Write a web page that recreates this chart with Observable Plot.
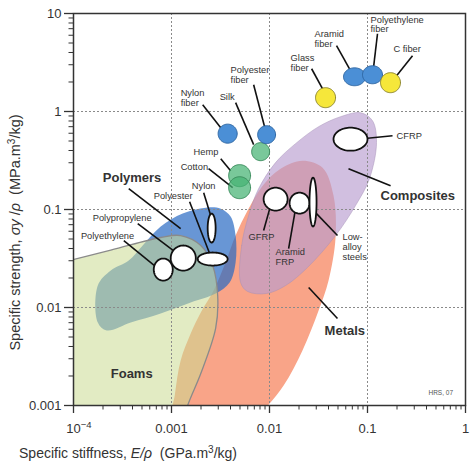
<!DOCTYPE html>
<html><head><meta charset="utf-8">
<script src="https://cdn.jsdelivr.net/npm/d3@7"></script>
<script src="https://cdn.jsdelivr.net/npm/@observablehq/plot@0.6"></script>
<style>body{margin:0;background:#fff;} svg{display:block;}</style>
</head><body><div id="chart"></div>
<script>
// ---- axis ticks ----
const xTicks = [1e-4, 1e-3, 1e-2, 1e-1, 1];
const xTickLabels = ["10⁻⁴", "0.001", "0.01", "0.1", "1"];
const yTicks = [1e-3, 1e-2, 1e-1, 1, 10];
const yTickLabels = ["0.001", "0.01", "0.1", "1", "10"];
const xGrid = [1e-3, 1e-2, 1e-1];
const yGrid = [1e-2, 1e-1, 1];

// ---- material-class envelopes: [E/rho (GPa.m3/kg), sigma_y/rho (MPa.m3/kg)] ----
const foams = [
  [2.90e-5, 5.57e-4], [2.90e-5, 0.02275], [5.87e-5, 0.0271], [2.40e-4, 0.0385],
  [7.76e-4, 0.0518], [1.24e-3, 0.0542], [1.99e-3, 0.0429], [2.63e-3, 0.0268],
  [2.96e-3, 0.01324], [2.82e-3, 0.00611], [1.99e-3, 0.00212], [1.46e-3, 0.0010],
  [1.24e-3, 5.57e-4]
];
const metals = [
  [9.82e-4, 5.57e-4], [1.08e-3, 1.27e-3], [1.24e-3, 2.88e-3], [1.57e-3, 5.43e-3],
  [1.99e-3, 8.89e-3], [2.69e-3, 0.0149], [3.56e-3, 0.0288], [4.51e-3, 0.0542],
  [5.98e-3, 0.0975], [8.51e-3, 0.175], [0.01297, 0.261], [0.0217, 0.315],
  [0.0348, 0.267], [0.0450, 0.1387], [0.0472, 0.0518], [0.0400, 0.0188],
  [0.0317, 0.00931], [0.0217, 0.00365], [0.01393, 0.00160], [8.71e-3, 8.91e-4],
  [5.70e-3, 5.57e-4]
];
const polymers = [
  [1.77e-4, 0.01675], [2.40e-4, 0.0238], [3.66e-4, 0.0301], [5.08e-4, 0.0429],
  [7.76e-4, 0.0670], [1.30e-3, 0.0908], [2.24e-3, 0.1045], [3.18e-3, 0.102],
  [4.01e-3, 0.0847], [4.51e-3, 0.0542], [4.51e-3, 0.0288], [3.92e-3, 0.0180],
  [2.82e-3, 0.0139], [1.57e-3, 0.01125], [7.76e-4, 8.69e-3], [3.84e-4, 7.03e-3],
  [2.18e-4, 5.83e-3], [1.77e-4, 7.03e-3]
];
const composites = [
  [5.07e-3, 0.0180], [5.20e-3, 0.0429], [6.12e-3, 0.0867], [7.74e-3, 0.163],
  [0.01153, 0.301], [0.01845, 0.470], [0.0317, 0.700], [0.0531, 0.885],
  [0.0849, 0.972], [0.1125, 0.805], [0.1236, 0.481], [0.1047, 0.2065],
  [0.0755, 0.1096], [0.0472, 0.0542], [0.0244, 0.0256], [0.01459, 0.01675],
  [9.33e-3, 0.0139], [5.98e-3, 0.01456]
];

// ---- individual materials: [name, kind, Emin, Emax, smin, smax] ----
const materials = [
  ["Polyethylene", "bulk", 6.59e-4, 1.03e-3, 0.0188, 0.0316],
  ["Polypropylene", "bulk", 9.82e-4, 1.77e-3, 0.0238, 0.0429],
  ["Polyester", "bulk", 1.85e-3, 3.74e-3, 0.0268, 0.0364],
  ["Nylon", "bulk", 2.34e-3, 2.82e-3, 0.0460, 0.0908],
  ["Silk", "natural fibre", 6.58e-3, 0.01002, 0.315, 0.481],
  ["Nylon fiber", "polymer fibre", 2.99e-3, 4.68e-3, 0.475, 0.743],
  ["Polyester fiber", "polymer fibre", 7.57e-3, 0.01153, 0.470, 0.716],
  ["Hemp", "natural fibre", 3.83e-3, 6.41e-3, 0.171, 0.287],
  ["Cotton", "natural fibre", 3.83e-3, 6.41e-3, 0.129, 0.216],
  ["Glass fiber", "inorganic fibre", 0.0295, 0.0472, 1.094, 1.750],
  ["Aramid fiber", "polymer fibre", 0.0569, 0.0955, 1.832, 2.79],
  ["Polyethylene fiber", "polymer fibre", 0.0889, 0.1422, 1.919, 2.93],
  ["C fiber", "inorganic fibre", 0.1358, 0.217, 1.556, 2.49],
  ["CFRP", "bulk", 0.0450, 0.100, 0.398, 0.684],
  ["GFRP", "bulk", 8.71e-3, 0.01531, 0.0975, 0.167],
  ["Aramid FRP", "bulk", 0.01603, 0.0256, 0.0908, 0.1486],
  ["Low-alloy steels", "bulk", 0.0256, 0.0302, 0.0670, 0.2113]
];

// ---- labels: [text, E, sigma] (left edge, vertical centre) ----
const labels = [
  ["Nylon\nfiber", 1.24e-3, 1.384], ["Silk", 3.10e-3, 1.400], ["Polyester\nfiber", 4.01e-3, 2.37],
  ["Hemp", 1.68e-3, 0.385], ["Cotton", 1.24e-3, 0.270], ["Nylon", 1.61e-3, 0.175],
  ["Polyester", 6.59e-4, 0.1387], ["Polypropylene", 1.57e-4, 0.0826], ["Polyethylene", 1.19e-4, 0.0542],
  ["CFRP", 0.198, 0.566], ["GFRP", 6.12e-3, 0.0524], ["Aramid\nFRP", 0.01153, 0.0327],
  ["Low-\nalloy\nsteels", 0.0556, 0.0414], ["Glass\nfiber", 0.01641, 3.14],
  ["Aramid\nfiber", 0.0288, 5.52], ["Polyethylene\nfiber", 0.1074, 7.76], ["C fiber", 0.184, 4.37]
];
const classLabels = [
  ["Polymers", 1.99e-4, 0.2113], ["Foams", 2.40e-4, 2.10e-3],
  ["Metals", 0.0365, 5.75e-3], ["Composites", 0.1358, 0.1387]
];
const credit = [["HRS, 07", 0.419, 1.33e-3]];

// ---- leader lines: [E1, s1, E2, s2] ----
const leaders = [
  [2.08e-3, 1.172, 3.18e-3, 0.684], [4.51e-3, 1.230, 6.89e-3, 0.459], [6.89e-3, 1.875, 8.91e-3, 0.700],
  [3.18e-3, 0.330, 4.01e-3, 0.249], [2.39e-3, 0.261, 4.21e-3, 0.167], [2.13e-3, 0.1486, 2.51e-3, 0.0867],
  [1.53e-3, 0.120, 2.45e-3, 0.0355], [3.66e-4, 0.163, 1.24e-3, 0.0638], [4.52e-4, 0.0718, 1.08e-3, 0.0372],
  [3.26e-4, 0.0482, 6.90e-4, 0.0262], [0.0889, 0.528, 0.180, 0.566], [0.0640, 0.261, 0.172, 0.175],
  [0.01026, 0.1096, 8.71e-3, 0.0610], [0.01845, 0.102, 0.01567, 0.0399], [0.0295, 0.0929, 0.0494, 0.0542],
  [0.0251, 0.0160, 0.0494, 0.00773], [0.0269, 2.73, 0.0356, 1.629], [0.0483, 4.69, 0.0671, 2.61],
  [0.1265, 6.21, 0.1151, 2.79], [0.288, 3.71, 0.198, 2.32]
];

// ---- styles ----
const kindStyle = {
  "bulk": {fill: "#ffffff", stroke: "#111", strokeWidth: 1.8, fillOpacity: 1},
  "polymer fibre": {fill: "#4b8fd6", stroke: "#2f67a3", strokeWidth: 1, fillOpacity: 1},
  "natural fibre": {fill: "#45b373", stroke: "#3a8c5c", strokeWidth: 1, fillOpacity: 0.72},
  "inorganic fibre": {fill: "#f6e73a", stroke: "#8d8630", strokeWidth: 1, fillOpacity: 1}
};

const lg = Math.log10;
function ellipsePts(m, n = 72) {
  const [name, kind, e0, e1, s0, s1] = m;
  const cx = (lg(e0) + lg(e1)) / 2, rx = (lg(e1) - lg(e0)) / 2;
  const cy = (lg(s0) + lg(s1)) / 2, ry = (lg(s1) - lg(s0)) / 2;
  return d3.range(n).map(i => {
    const t = 2 * Math.PI * i / n;
    return {name, kind, E: 10 ** (cx + rx * Math.cos(t)), s: 10 ** (cy + ry * Math.sin(t))};
  });
}
const bubbleMarks = materials.map(m => {
  const st = kindStyle[m[1]];
  return Plot.line(ellipsePts(m), {x: "E", y: "s", curve: "linear-closed", ...st});
});

const xMinor = d3.range(-4, 0).flatMap(e => d3.range(2, 10).map(k => k * 10 ** e));
const yMinor = d3.range(-3, 1).flatMap(e => d3.range(2, 10).map(k => k * 10 ** e));
const xLab = new Map(xTicks.map((t, i) => [t, xTickLabels[i]]));
const yLab = new Map(yTicks.map((t, i) => [t, yTickLabels[i]]));

const env = (pts, o) => Plot.line(pts, {x: d => d[0], y: d => d[1], curve: "catmull-rom-closed", clip: true, ...o});
const FONT = "'Liberation Sans', Arial, Helvetica, sans-serif";

const plot = Plot.plot({
  width: 474, height: 472,
  marginLeft: 73, marginRight: 9, marginTop: 13, marginBottom: 67,
  x: {type: "log", domain: [1e-4, 1], label: null},
  y: {type: "log", domain: [1e-3, 10], label: null},
  style: {fontFamily: FONT, fontSize: "13px", color: "#333", background: "#fff"},
  marks: [
    env(metals, {fill: "#f9a488", stroke: "none"}),
    env(polymers, {fill: "#2869c3", fillOpacity: 0.7, stroke: "none"}),
    env(composites, {fill: "#b89dd0", fillOpacity: 0.65, stroke: "#a48fb8", strokeWidth: 0.8, strokeOpacity: 0.6}),
    env(foams, {fill: "#cadb91", fillOpacity: 0.55, stroke: "#8a8a8a", strokeWidth: 1.3}),
    Plot.gridX(xGrid, {stroke: "#8a8a8a", strokeOpacity: 1, strokeDasharray: "2,2", strokeWidth: 1}),
    Plot.gridY(yGrid, {stroke: "#8a8a8a", strokeOpacity: 1, strokeDasharray: "2,2", strokeWidth: 1}),
    Plot.link(leaders, {x1: d => d[0], y1: d => d[1], x2: d => d[2], y2: d => d[3], stroke: "#111", strokeWidth: 1.6}),
    ...bubbleMarks,
    Plot.text(labels, {x: d => d[1], y: d => d[2], text: d => d[0], textAnchor: "start", lineAnchor: "middle",
      fontSize: 9.3, lineHeight: 1.07, fill: "#333"}),
    Plot.text(classLabels, {x: d => d[1], y: d => d[2], text: d => d[0], textAnchor: "start", lineAnchor: "middle",
      fontSize: 13, fontWeight: "bold", fill: "#333"}),
    Plot.text(credit, {x: d => d[1], y: d => d[2], text: d => d[0], textAnchor: "start", lineAnchor: "middle",
      fontSize: 6.5, fill: "#555"}),
    Plot.frame({stroke: "#333", strokeWidth: 1.5}),
    Plot.axisX(xMinor, {tickSize: 4.5, tickFormat: () => "", label: null, stroke: "#333"}),
    Plot.axisX(xTicks, {tickSize: 8, tickPadding: 10, tickFormat: d => xLab.get(d), label: null, fontSize: 13, stroke: "#333", strokeWidth: 1.3, fill: "#333"}),
    Plot.axisY(yMinor, {tickSize: 4.5, tickFormat: () => "", label: null, stroke: "#333"}),
    Plot.axisY(yTicks, {tickSize: 9, tickPadding: 3, tickFormat: d => yLab.get(d), label: null, fontSize: 13, stroke: "#333", strokeWidth: 1.3, fill: "#333"})
  ]
});
document.getElementById("chart").append(plot);

// superscript exponent for 10^-4
const svg = d3.select(plot);
svg.selectAll("text").each(function () {
  if (this.textContent === "10⁻⁴") {
    const t = d3.select(this);
    t.text("10").attr("dx", 5.4);
    t.append("tspan").attr("dy", "-0.5em").attr("font-size", "9.5px").text("−4");
  }
});

// axis titles with italic symbols
const xl = svg.append("text").attr("x", 128).attr("y", 458).attr("font-size", 14)
  .attr("fill", "#333").attr("font-family", FONT);
xl.append("tspan").text("Specific stiffness, ");
xl.append("tspan").attr("font-style", "italic").text("E/ρ");
xl.append("tspan").text("\u00a0 (GPa.m");
xl.append("tspan").attr("dy", -5).attr("font-size", 10).text("3");
xl.append("tspan").attr("dy", 5).text("/kg)");

const yl = svg.append("text").attr("transform", "translate(20,232.5) rotate(-90)")
  .attr("text-anchor", "middle").attr("font-size", 14.5).attr("fill", "#333").attr("font-family", FONT);
yl.append("tspan").text("Specific strength, ");
yl.append("tspan").attr("font-style", "italic").text("σy");
yl.append("tspan").text(" /");
yl.append("tspan").attr("font-style", "italic").text("ρ");
yl.append("tspan").text("\u00a0 (MPa.m");
yl.append("tspan").attr("dy", -5).attr("font-size", 10).text("3");
yl.append("tspan").attr("dy", 5).text("/kg)");
</script>
</body></html>
